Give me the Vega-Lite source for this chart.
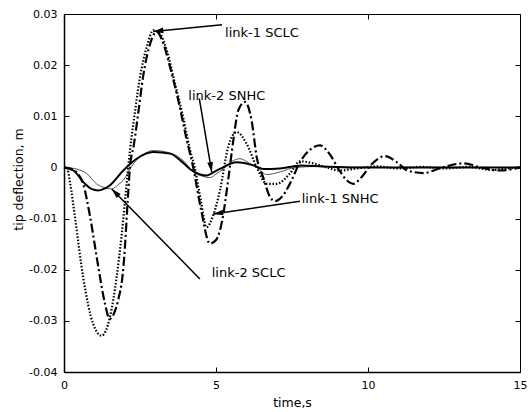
{
  "$schema": "https://vega.github.io/schema/vega-lite/v6.json",
  "width": 456,
  "height": 358,
  "autosize": "none",
  "padding": {"left": 64, "top": 14, "right": 9, "bottom": 40},
  "background": "white",
  "config": {
    "view": {"stroke": "black", "strokeWidth": 1},
    "font": "DejaVu Sans",
    "axis": {
      "domainColor": "black", "domainWidth": 1.5, "tickColor": "black", "tickSize": -5,
      "labelColor": "black", "labelFont": "DejaVu Sans", "labelFontSize": 11, "labelFlush": false,
      "titleColor": "black", "titleFont": "DejaVu Sans", "titleFontSize": 12.5, "titleFontWeight": "normal",
      "grid": false
    }
  },
  "resolve": {"axis": {"x": "independent", "y": "independent"}},
  "datasets": {
    "curves": [
      {"s": "SCLC-1", "t": 0, "y": 0}, {"s": "SCLC-1", "t": 0.09, "y": 0}, {"s": "SCLC-1", "t": 0.2, "y": -0.003},
      {"s": "SCLC-1", "t": 0.36, "y": -0.0097}, {"s": "SCLC-1", "t": 0.63, "y": -0.0215}, {"s": "SCLC-1", "t": 0.96, "y": -0.0306},
      {"s": "SCLC-1", "t": 1.24, "y": -0.0329}, {"s": "SCLC-1", "t": 1.51, "y": -0.0293}, {"s": "SCLC-1", "t": 1.73, "y": -0.0215},
      {"s": "SCLC-1", "t": 1.9, "y": -0.013}, {"s": "SCLC-1", "t": 2.06, "y": -0.0032}, {"s": "SCLC-1", "t": 2.17, "y": 0.0033},
      {"s": "SCLC-1", "t": 2.34, "y": 0.0111}, {"s": "SCLC-1", "t": 2.5, "y": 0.0177}, {"s": "SCLC-1", "t": 2.72, "y": 0.0235},
      {"s": "SCLC-1", "t": 2.94, "y": 0.0268}, {"s": "SCLC-1", "t": 3.16, "y": 0.0261}, {"s": "SCLC-1", "t": 3.38, "y": 0.0229},
      {"s": "SCLC-1", "t": 3.65, "y": 0.0164}, {"s": "SCLC-1", "t": 3.92, "y": 0.0098}, {"s": "SCLC-1", "t": 4.15, "y": 0.0033},
      {"s": "SCLC-1", "t": 4.3, "y": 0.0}, {"s": "SCLC-1", "t": 4.5, "y": -0.0065}, {"s": "SCLC-1", "t": 4.69, "y": -0.0117},
      {"s": "SCLC-1", "t": 4.9, "y": -0.0095}, {"s": "SCLC-1", "t": 5.13, "y": -0.0045}, {"s": "SCLC-1", "t": 5.4, "y": 0.004},
      {"s": "SCLC-1", "t": 5.68, "y": 0.0069}, {"s": "SCLC-1", "t": 6.01, "y": 0.0046}, {"s": "SCLC-1", "t": 6.34, "y": 0.0},
      {"s": "SCLC-1", "t": 6.67, "y": -0.0032}, {"s": "SCLC-1", "t": 7.0, "y": -0.0032}, {"s": "SCLC-1", "t": 7.43, "y": -0.0012},
      {"s": "SCLC-1", "t": 7.76, "y": 0.0012}, {"s": "SCLC-1", "t": 8.2, "y": 0.0008}, {"s": "SCLC-1", "t": 8.64, "y": 0.0},
      {"s": "SCLC-1", "t": 9.08, "y": -0.0006}, {"s": "SCLC-1", "t": 9.63, "y": -0.0002}, {"s": "SCLC-1", "t": 10.3, "y": 0.0002},
      {"s": "SCLC-1", "t": 11.0, "y": -0.0002}, {"s": "SCLC-1", "t": 11.8, "y": 0.0001}, {"s": "SCLC-1", "t": 12.5, "y": -0.0002},
      {"s": "SCLC-1", "t": 13.3, "y": 0.0001}, {"s": "SCLC-1", "t": 14.1, "y": -0.0005}, {"s": "SCLC-1", "t": 14.6, "y": -0.0002},
      {"s": "SCLC-1", "t": 15, "y": 0},

      {"s": "SCLC-2", "t": 0, "y": 0}, {"s": "SCLC-2", "t": 0.25, "y": -0.0003}, {"s": "SCLC-2", "t": 0.45, "y": -0.0012},
      {"s": "SCLC-2", "t": 0.63, "y": -0.0032}, {"s": "SCLC-2", "t": 0.86, "y": -0.0097}, {"s": "SCLC-2", "t": 1.13, "y": -0.0195},
      {"s": "SCLC-2", "t": 1.35, "y": -0.0267}, {"s": "SCLC-2", "t": 1.5, "y": -0.0296}, {"s": "SCLC-2", "t": 1.64, "y": -0.0286},
      {"s": "SCLC-2", "t": 1.8, "y": -0.0255}, {"s": "SCLC-2", "t": 1.92, "y": -0.0215}, {"s": "SCLC-2", "t": 2.0, "y": -0.016},
      {"s": "SCLC-2", "t": 2.08, "y": -0.008}, {"s": "SCLC-2", "t": 2.17, "y": 0.0}, {"s": "SCLC-2", "t": 2.3, "y": 0.0045},
      {"s": "SCLC-2", "t": 2.45, "y": 0.011}, {"s": "SCLC-2", "t": 2.6, "y": 0.0177}, {"s": "SCLC-2", "t": 2.8, "y": 0.0235},
      {"s": "SCLC-2", "t": 3.05, "y": 0.0265}, {"s": "SCLC-2", "t": 3.27, "y": 0.0242}, {"s": "SCLC-2", "t": 3.49, "y": 0.0196},
      {"s": "SCLC-2", "t": 3.76, "y": 0.0131}, {"s": "SCLC-2", "t": 4.04, "y": 0.0053}, {"s": "SCLC-2", "t": 4.25, "y": 0.0},
      {"s": "SCLC-2", "t": 4.5, "y": -0.008}, {"s": "SCLC-2", "t": 4.8, "y": -0.0149}, {"s": "SCLC-2", "t": 5.0, "y": -0.0142},
      {"s": "SCLC-2", "t": 5.2, "y": -0.0105}, {"s": "SCLC-2", "t": 5.4, "y": -0.0025}, {"s": "SCLC-2", "t": 5.57, "y": 0.0053},
      {"s": "SCLC-2", "t": 5.73, "y": 0.0111}, {"s": "SCLC-2", "t": 5.95, "y": 0.0128}, {"s": "SCLC-2", "t": 6.17, "y": 0.0092},
      {"s": "SCLC-2", "t": 6.34, "y": 0.002}, {"s": "SCLC-2", "t": 6.55, "y": -0.0019}, {"s": "SCLC-2", "t": 6.78, "y": -0.0058},
      {"s": "SCLC-2", "t": 6.95, "y": -0.0066}, {"s": "SCLC-2", "t": 7.16, "y": -0.0058}, {"s": "SCLC-2", "t": 7.43, "y": -0.0032},
      {"s": "SCLC-2", "t": 7.76, "y": 0.001}, {"s": "SCLC-2", "t": 8.1, "y": 0.0035}, {"s": "SCLC-2", "t": 8.42, "y": 0.0043},
      {"s": "SCLC-2", "t": 8.75, "y": 0.0025}, {"s": "SCLC-2", "t": 9.05, "y": -0.0005}, {"s": "SCLC-2", "t": 9.3, "y": -0.0025},
      {"s": "SCLC-2", "t": 9.52, "y": -0.0032}, {"s": "SCLC-2", "t": 9.8, "y": -0.0018}, {"s": "SCLC-2", "t": 10.1, "y": 0.0005},
      {"s": "SCLC-2", "t": 10.56, "y": 0.0022}, {"s": "SCLC-2", "t": 10.95, "y": 0.001}, {"s": "SCLC-2", "t": 11.3, "y": -0.0006},
      {"s": "SCLC-2", "t": 11.82, "y": -0.0011}, {"s": "SCLC-2", "t": 12.4, "y": -0.0001}, {"s": "SCLC-2", "t": 13.14, "y": 0.0008},
      {"s": "SCLC-2", "t": 13.7, "y": 0.0}, {"s": "SCLC-2", "t": 14.34, "y": -0.0006}, {"s": "SCLC-2", "t": 15, "y": 0.0},

      {"s": "SNHC-2", "t": 0, "y": 0}, {"s": "SNHC-2", "t": 0.31, "y": -0.0006}, {"s": "SNHC-2", "t": 0.69, "y": -0.0032},
      {"s": "SNHC-2", "t": 0.9, "y": -0.0042}, {"s": "SNHC-2", "t": 1.13, "y": -0.0045}, {"s": "SNHC-2", "t": 1.35, "y": -0.0041},
      {"s": "SNHC-2", "t": 1.51, "y": -0.0035}, {"s": "SNHC-2", "t": 1.95, "y": -0.0006}, {"s": "SNHC-2", "t": 2.39, "y": 0.0017},
      {"s": "SNHC-2", "t": 2.94, "y": 0.003}, {"s": "SNHC-2", "t": 3.49, "y": 0.0027}, {"s": "SNHC-2", "t": 3.9, "y": 0.001},
      {"s": "SNHC-2", "t": 4.14, "y": -0.0003}, {"s": "SNHC-2", "t": 4.45, "y": -0.0013}, {"s": "SNHC-2", "t": 4.69, "y": -0.0016},
      {"s": "SNHC-2", "t": 4.9, "y": -0.001}, {"s": "SNHC-2", "t": 5.13, "y": -0.0003}, {"s": "SNHC-2", "t": 5.68, "y": 0.001},
      {"s": "SNHC-2", "t": 6.23, "y": 0.0004}, {"s": "SNHC-2", "t": 6.55, "y": -0.0003}, {"s": "SNHC-2", "t": 7.1, "y": -0.0002},
      {"s": "SNHC-2", "t": 7.8, "y": 0.0004}, {"s": "SNHC-2", "t": 8.5, "y": 0.0002}, {"s": "SNHC-2", "t": 9.5, "y": 0.0},
      {"s": "SNHC-2", "t": 15, "y": 0.0},

      {"s": "SNHC-1", "t": 0, "y": 0}, {"s": "SNHC-1", "t": 0.4, "y": -0.0003}, {"s": "SNHC-1", "t": 0.75, "y": -0.0012},
      {"s": "SNHC-1", "t": 1.07, "y": -0.0032}, {"s": "SNHC-1", "t": 1.35, "y": -0.004}, {"s": "SNHC-1", "t": 1.57, "y": -0.0042},
      {"s": "SNHC-1", "t": 1.8, "y": -0.0033}, {"s": "SNHC-1", "t": 1.95, "y": -0.0025}, {"s": "SNHC-1", "t": 2.28, "y": 0.0007},
      {"s": "SNHC-1", "t": 2.6, "y": 0.0025}, {"s": "SNHC-1", "t": 2.94, "y": 0.0033}, {"s": "SNHC-1", "t": 3.5, "y": 0.0028},
      {"s": "SNHC-1", "t": 3.95, "y": 0.0012}, {"s": "SNHC-1", "t": 4.25, "y": -0.0009}, {"s": "SNHC-1", "t": 4.55, "y": -0.0017},
      {"s": "SNHC-1", "t": 4.8, "y": -0.002}, {"s": "SNHC-1", "t": 5.0, "y": -0.0013}, {"s": "SNHC-1", "t": 5.24, "y": -0.0003},
      {"s": "SNHC-1", "t": 5.5, "y": 0.0011}, {"s": "SNHC-1", "t": 5.79, "y": 0.0017}, {"s": "SNHC-1", "t": 6.1, "y": 0.0008},
      {"s": "SNHC-1", "t": 6.34, "y": 0.0}, {"s": "SNHC-1", "t": 6.67, "y": -0.0014}, {"s": "SNHC-1", "t": 7.1, "y": -0.0009},
      {"s": "SNHC-1", "t": 7.6, "y": 0.0}, {"s": "SNHC-1", "t": 8.5, "y": 0.0002}, {"s": "SNHC-1", "t": 10, "y": 0.0},
      {"s": "SNHC-1", "t": 15, "y": 0.0}
    ],
    "notes": [
      {"label": "link-1 SCLC", "t": 5.3, "y": 0.0263},
      {"label": "link-2 SNHC", "t": 4.09, "y": 0.0139},
      {"label": "link-1 SNHC", "t": 7.82, "y": -0.0061},
      {"label": "link-2 SCLC", "t": 4.86, "y": -0.0207}
    ],
    "arrows": [
      {"label": "link-1 SCLC", "t": 5.2, "y": 0.0279, "t2": 2.94, "y2": 0.0266},
      {"label": "link-2 SNHC", "t": 4.45, "y": 0.0135, "t2": 4.86, "y2": -0.0009},
      {"label": "link-1 SNHC", "t": 7.76, "y": -0.0066, "t2": 4.91, "y2": -0.0091},
      {"label": "link-2 SCLC", "t": 4.47, "y": -0.0218, "t2": 1.57, "y2": -0.0042}
    ]
  },
  "encoding": {
    "x": {"field": "t", "type": "quantitative", "scale": {"domain": [0, 15], "nice": false, "zero": false}, "axis": null},
    "y": {"field": "y", "type": "quantitative", "scale": {"domain": [-0.04, 0.03], "nice": false, "zero": false}, "axis": null}
  },
  "layer": [
    {"data": {"name": "curves"}, "transform": [{"filter": "datum.s === 'SNHC-1'"}],
      "mark": {"type": "line", "color": "#555555", "strokeWidth": 1, "interpolate": "monotone"}},
    {"data": {"name": "curves"}, "transform": [{"filter": "datum.s === 'SNHC-2'"}],
      "mark": {"type": "line", "color": "black", "strokeWidth": 2, "interpolate": "monotone"},
      "encoding": {
        "x": {"field": "t", "type": "quantitative", "scale": {"domain": [0, 15], "nice": false, "zero": false},
          "axis": {"values": [0, 5, 10, 15], "title": "time,s", "labelPadding": 12, "titlePadding": 6}},
        "y": {"field": "y", "type": "quantitative", "scale": {"domain": [-0.04, 0.03], "nice": false, "zero": false},
          "axis": {"values": [-0.04, -0.03, -0.02, -0.01, 0, 0.01, 0.02, 0.03], "labelExpr": "'' + datum.value", "title": "tip deflection, m", "labelPadding": 12, "titleX": -46, "titleY": 165, "titleBaseline": "middle", "titleAlign": "center"}}
      }},
    {"data": {"name": "curves"}, "transform": [{"filter": "datum.s === 'SCLC-1'"}],
      "mark": {"type": "line", "color": "black", "strokeWidth": 2.2, "strokeDash": [1.5, 1.8], "interpolate": "monotone"}},
    {"data": {"name": "curves"}, "transform": [{"filter": "datum.s === 'SCLC-2'"}],
      "mark": {"type": "line", "color": "black", "strokeWidth": 2.2, "strokeDash": [9, 3, 2, 3], "interpolate": "monotone"}},
    {"data": {"name": "arrows"},
      "mark": {"type": "rule", "color": "black", "strokeWidth": 1.5},
      "encoding": {
        "x": {"field": "t", "type": "quantitative", "scale": {"domain": [0, 15], "nice": false, "zero": false},
          "axis": {"orient": "top", "values": [0, 5, 10, 15], "labels": false, "title": null, "domain": false}},
        "x2": {"field": "t2"},
        "y": {"field": "y", "type": "quantitative", "scale": {"domain": [-0.04, 0.03], "nice": false, "zero": false},
          "axis": {"orient": "right", "values": [-0.04, -0.03, -0.02, -0.01, 0, 0.01, 0.02, 0.03], "labels": false, "title": null, "domain": false}},
        "y2": {"field": "y2"}
      }},
    {"data": {"name": "arrows"}, "transform": [{"filter": "datum.label === 'link-1 SCLC'"}],
      "mark": {"type": "point", "shape": "M0,0L-0.32,1.1L0.32,1.1Z", "filled": true, "color": "black", "size": 324, "angle": 264.6, "opacity": 1},
      "encoding": {"x": {"field": "t2", "type": "quantitative", "axis": null}, "y": {"field": "y2", "type": "quantitative", "axis": null}}},
    {"data": {"name": "arrows"}, "transform": [{"filter": "datum.label === 'link-2 SNHC'"}],
      "mark": {"type": "point", "shape": "M0,0L-0.32,1.1L0.32,1.1Z", "filled": true, "color": "black", "size": 324, "angle": 170.4, "opacity": 1},
      "encoding": {"x": {"field": "t2", "type": "quantitative", "axis": null}, "y": {"field": "y2", "type": "quantitative", "axis": null}}},
    {"data": {"name": "arrows"}, "transform": [{"filter": "datum.label === 'link-1 SNHC'"}],
      "mark": {"type": "point", "shape": "M0,0L-0.32,1.1L0.32,1.1Z", "filled": true, "color": "black", "size": 324, "angle": 261.6, "opacity": 1},
      "encoding": {"x": {"field": "t2", "type": "quantitative", "axis": null}, "y": {"field": "y2", "type": "quantitative", "axis": null}}},
    {"data": {"name": "arrows"}, "transform": [{"filter": "datum.label === 'link-2 SCLC'"}],
      "mark": {"type": "point", "shape": "M0,0L-0.32,1.1L0.32,1.1Z", "filled": true, "color": "black", "size": 324, "angle": 315.5, "opacity": 1},
      "encoding": {"x": {"field": "t2", "type": "quantitative", "axis": null}, "y": {"field": "y2", "type": "quantitative", "axis": null}}},
    {"data": {"name": "notes"},
      "mark": {"type": "text", "align": "left", "baseline": "middle", "font": "DejaVu Sans", "fontSize": 13, "color": "black"},
      "encoding": {"text": {"field": "label"}}}
  ]
}
